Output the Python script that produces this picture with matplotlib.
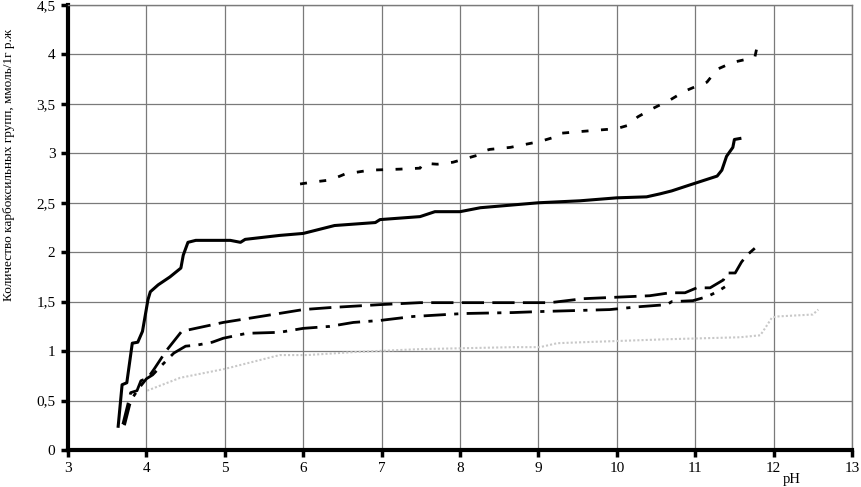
import matplotlib
matplotlib.use('Agg')
import matplotlib.pyplot as plt
from matplotlib.ticker import FuncFormatter

# Data (pH, mmol/g)
ph_solid = [3.64, 3.69, 3.75, 3.82, 3.89, 3.95, 4.02, 4.05, 4.15, 4.30, 4.44, 4.47, 4.53,
            4.63, 5.07, 5.20, 5.26, 5.70, 6.00, 6.40, 6.92, 6.98, 7.49, 7.68, 8.00, 8.26,
            9.00, 9.53, 10.00, 10.38, 10.55, 10.70, 10.93, 11.28, 11.34, 11.40, 11.48,
            11.50, 11.57]
val_solid = [0.24, 0.66, 0.68, 1.08, 1.09, 1.20, 1.52, 1.60, 1.67, 1.75, 1.84, 1.97, 2.10,
             2.12, 2.12, 2.10, 2.13, 2.17, 2.19, 2.27, 2.30, 2.33, 2.36, 2.41, 2.41, 2.45,
             2.50, 2.52, 2.55, 2.56, 2.59, 2.62, 2.68, 2.77, 2.83, 2.97, 3.06, 3.14, 3.15]

ph_short = [5.96, 6.13, 6.34, 6.47, 6.53, 6.85, 7.23, 7.49, 7.53, 7.71, 7.91, 8.22, 8.29,
            8.38, 8.64, 9.02, 9.19, 9.24, 9.53, 10.00, 10.13, 10.27, 10.45, 10.68, 10.87,
            11.02, 11.15, 11.28, 11.48, 11.76, 11.79, 11.85]
val_short = [2.69, 2.71, 2.73, 2.77, 2.79, 2.83, 2.84, 2.85, 2.90, 2.89, 2.91, 2.98, 3.02,
             3.04, 3.06, 3.12, 3.16, 3.20, 3.22, 3.25, 3.28, 3.37, 3.45, 3.54, 3.63,
             3.68, 3.72, 3.85, 3.92, 3.97, 4.08, 4.10]

ph_long = [3.70, 3.76, 3.80, 3.88, 3.93, 4.02, 4.10, 4.25, 4.45, 4.98, 5.61, 6.00, 6.34,
           6.98, 7.49, 8.68, 9.15, 9.57, 10.42, 10.68, 10.87, 11.02, 11.19, 11.36, 11.40,
           11.51, 11.59, 11.66, 11.76]
val_long = [0.26, 0.45, 0.58, 0.60, 0.70, 0.73, 0.82, 1.00, 1.20, 1.29, 1.37, 1.42, 1.44,
            1.47, 1.49, 1.49, 1.49, 1.53, 1.56, 1.59, 1.59, 1.64, 1.64, 1.72, 1.79,
            1.79, 1.90, 1.97, 2.04]

ph_dashdot = [3.72, 3.80, 3.90, 4.00, 4.08, 4.20, 4.35, 4.50, 4.64, 4.84, 4.98, 5.28, 5.70,
              6.00, 6.34, 6.64, 6.98, 7.40, 8.04, 8.68, 9.02, 9.91, 10.30, 10.64, 10.70,
              10.97, 11.15, 11.28, 11.38]
val_dashdot = [0.25, 0.50, 0.62, 0.72, 0.76, 0.86, 0.98, 1.05, 1.06, 1.09, 1.13, 1.18, 1.19,
               1.23, 1.25, 1.29, 1.31, 1.35, 1.38, 1.39, 1.40, 1.42, 1.45, 1.47, 1.50,
               1.51, 1.55, 1.60, 1.65]

ph_gray = [4.01, 4.43, 5.00, 5.70, 6.05, 6.64, 7.20, 7.49, 8.68, 9.02, 9.24, 9.57, 10.64,
           11.57, 11.83, 11.89, 11.98, 12.04, 12.50, 12.57]
val_gray = [0.60, 0.73, 0.82, 0.96, 0.96, 0.99, 1.01, 1.02, 1.04, 1.04, 1.08, 1.09, 1.12,
            1.14, 1.16, 1.23, 1.34, 1.35, 1.37, 1.42]

x_ticks = list(range(3, 14))
y_ticks = [0, 0.5, 1, 1.5, 2, 2.5, 3, 3.5, 4, 4.5]


def main():
    plt.rcParams['font.family'] = ['Liberation Serif', 'DejaVu Serif']

    fig = plt.figure(figsize=(8.62, 4.87), dpi=100)
    ax = fig.add_axes([68 / 862, 1 - 450 / 487, 784 / 862, 445 / 487])

    # Curves
    ax.plot(ph_gray, val_gray, color='#c8c8c8', lw=1.5, ls=(0, (1, 1)))
    ax.plot(ph_dashdot, val_dashdot, color='black', lw=2, ls=(0, (8, 3, 1.5, 3)))
    ax.plot(ph_long, val_long, color='black', lw=2, ls=(0, (8, 3)))
    ax.plot(ph_short, val_short, color='black', lw=2, ls=(0, (2.5, 4.5)))
    ax.plot(ph_solid, val_solid, color='black', lw=2.2)

    # Axes
    ax.set_xlim(3, 13)
    ax.set_ylim(0, 4.5)
    ax.set_xticks(x_ticks)
    ax.set_yticks(y_ticks)
    ax.yaxis.set_major_formatter(FuncFormatter(lambda v, p: ('%g' % v).replace('.', ',')))
    ax.grid(True, color='#7a7a7a', lw=0.9)
    ax.set_axisbelow(True)
    ax.tick_params(direction='out', length=5, width=2.5, labelsize=11, pad=4)

    for side in ['left', 'bottom']:
        ax.spines[side].set_linewidth(3)
        ax.spines[side].set_color('black')
    for side in ['top', 'right']:
        ax.spines[side].set_linewidth(1)
        ax.spines[side].set_color('#7a7a7a')

    # Labels
    fig.text(9 / 862, 1 - 165 / 487, 'Количество карбоксильных групп, ммоль/1г р.ж',
             rotation=90, ha='center', va='center', fontsize=9.5)
    fig.text(792 / 862, 1 - 479 / 487, 'pH', ha='center', va='center', fontsize=10.5)

    fig.savefig('out.png', dpi=100)


main()
